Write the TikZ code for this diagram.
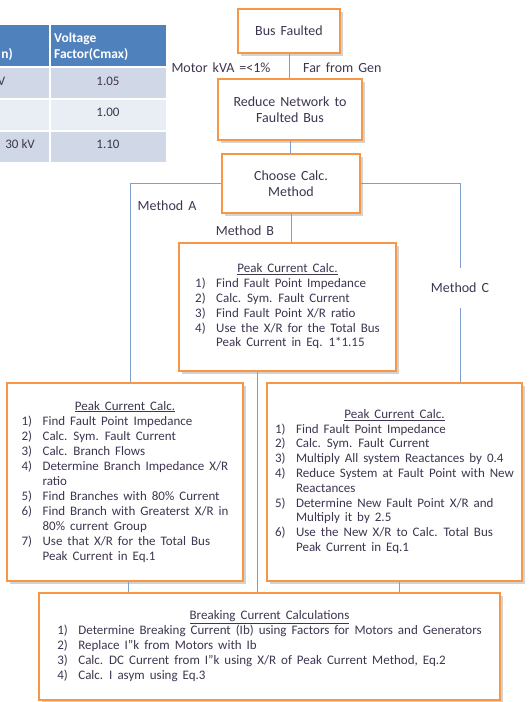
\documentclass[tikz,border=0pt]{standalone}
\usepackage{fontspec}
\setmainfont{Carlito}
\usetikzlibrary{shadows}
\definecolor{orng}{HTML}{F79646}
\definecolor{wire}{HTML}{7EA0D0}
\definecolor{hdr}{HTML}{4F81BD}
\definecolor{rowa}{HTML}{D0D8E8}
\definecolor{rowb}{HTML}{E9EDF4}
\definecolor{ink}{HTML}{3F3550}
\newcommand\widesp{\spaceskip=5pt plus 1pt minus 1pt\relax}

\begin{document}
\begin{tikzpicture}[x=1pt,y=-1pt,
  every node/.append style={text=ink},
  stage/.style={draw=orng, line width=1.6pt, fill=white, align=center, inner sep=0pt,
    drop shadow={shadow xshift=2.5pt,shadow yshift=-2.5pt,opacity=.35},
    font=\fontsize{14}{16}\selectfont\widesp},
  calc/.style={stage, font=\fontsize{13}{14.8}\selectfont\widesp},
  tag/.style={font=\fontsize{14}{16}\selectfont\widesp, inner sep=1pt},
  cell/.style={font=\fontsize{13}{15}\selectfont, inner sep=0pt},
  link/.style={draw=wire, line width=0.9pt},
]
\useasboundingbox (0,0) rectangle (528,702);
\clip (0,0) rectangle (528,702);
% voltage factor table, cut at the left edge
\fill[hdr] (0,25) rectangle (166,66);
\fill[rowa] (0,68) rectangle (166,98);
\fill[rowb] (0,100) rectangle (166,130);
\fill[rowa] (0,132) rectangle (166,162);
\draw[white, line width=1.5pt] (50,25) -- (50,162);
\node[cell, font=\bfseries\fontsize{13.5}{16}\selectfont, text=white, anchor=east] (hUn) at (13,55) {n)};
\node[cell, font=\bfseries\fontsize{13.5}{16}\selectfont, text=white, align=left, anchor=west] (hCmax) at (54,46.5) {Voltage\\Factor(Cmax)};
\node[cell, anchor=east] (kv1) at (5.5,81) {V};
\node[cell, anchor=east] (kv3) at (35,144) {30 kV};
\node[cell] (c1) at (108,81) {1.05};
\node[cell] (c2) at (108,112) {1.00};
\node[cell] (c3) at (108,144) {1.10};
% flow boxes
\node[stage, minimum width=102pt, minimum height=44pt] (fault) at (289,31) {Bus Faulted};
\node[stage, minimum width=144pt, minimum height=61pt] (reduce) at (290,109.5) {Reduce Network to\\Faulted Bus};
\node[stage, minimum width=138pt, minimum height=59pt] (choose) at (291,183.5) {Choose Calc.\\Method};
\node[calc, minimum width=217pt, minimum height=128pt] (pcB) at (287.5,307) {%
  \begin{tabular}{@{}l@{\hspace{10.5pt}}l@{}}
  \multicolumn{2}{c}{\underline{Peak Current Calc.}}\\
  1) & Find Fault Point Impedance\\
  2) & Calc. Sym. Fault Current\\
  3) & Find Fault Point X/R ratio\\
  4) & Use the X/R for the Total Bus\\
     & Peak Current in Eq. 1*1.15
  \end{tabular}};
\node[calc, font=\fontsize{13}{15}\selectfont\widesp, minimum width=236pt, minimum height=198pt] (pcA) at (125,482) {%
  \begin{tabular}{@{}l@{\hspace{10.5pt}}l@{}}
  \multicolumn{2}{c}{\underline{Peak Current Calc.}}\\
  1) & Find Fault Point Impedance\\
  2) & Calc. Sym. Fault Current\\
  3) & Calc. Branch Flows\\
  4) & Determine Branch Impedance X/R\\
     & ratio\\
  5) & Find Branches with 80\% Current\\
  6) & Find Branch with Greaterst X/R in\\
     & 80\% current Group\\
  7) & Use that X/R for the Total Bus\\
     & Peak Current in Eq.1
  \end{tabular}};
\node[calc, minimum width=255pt, minimum height=198pt] (pcC) at (394.5,482) {%
  \begin{tabular}{@{}l@{\hspace{10.5pt}}l@{}}
  \multicolumn{2}{c}{\underline{Peak Current Calc.}}\\
  1) & Find Fault Point Impedance\\
  2) & Calc. Sym. Fault Current\\
  3) & Multiply All system Reactances by 0.4\\
  4) & Reduce System at Fault Point with New\\
     & Reactances\\
  5) & Determine New Fault Point X/R and\\
     & Multiply it by 2.5\\
  6) & Use the New X/R to Calc. Total Bus\\
     & Peak Current in Eq.1
  \end{tabular}};
\node[calc, minimum width=461pt, minimum height=107pt] (brk) at (269.5,646.5) {%
  \begin{tabular}{@{}l@{\hspace{10.5pt}}l@{}}
  \multicolumn{2}{c}{\underline{Breaking Current Calculations}}\\
  1) & Determine Breaking Current (Ib) using Factors for Motors and Generators\\
  2) & Replace I"k from Motors with Ib\\
  3) & Calc. DC Current from I"k using X/R of Peak Current Method, Eq.2\\
  4) & Calc. I asym using Eq.3
  \end{tabular}};
% branch labels
\node[tag] (lblmotor) at (221,68) {Motor kVA =<1\%};
\node[tag, anchor=west] (lblfar) at (302,68) {Far from Gen};
\node[tag] (lblA) at (167,206) {Method A};
\node[tag] (lblB) at (245,231) {Method B};
\node[tag, minimum height=40pt] (lblC) at (460,288) {Method C};
% connectors
\draw[link] (fault.south) -- (fault.south |- reduce.north);
\draw[link] (reduce.south) -- (reduce.south |- choose.north);
\draw[link] (choose.west) -| ([xshift=5pt]pcA.north);
\draw[link] (choose.east) -| (lblC.north);
\draw[link] (lblC.south) -- (lblC.south |- pcC.north);
\draw[link] (choose.south) -- (choose.south |- pcB.north);
\draw[link] ([xshift=-30pt]pcB.south) -- ([xshift=-30pt]pcB.south |- brk.north);
\draw[link] ([xshift=3pt]pcA.south) -- ([xshift=3pt]pcA.south |- brk.north);
\draw[link] ([xshift=4.5pt]pcC.south) -- ([xshift=4.5pt]pcC.south |- brk.north);
\end{tikzpicture}
\end{document}
